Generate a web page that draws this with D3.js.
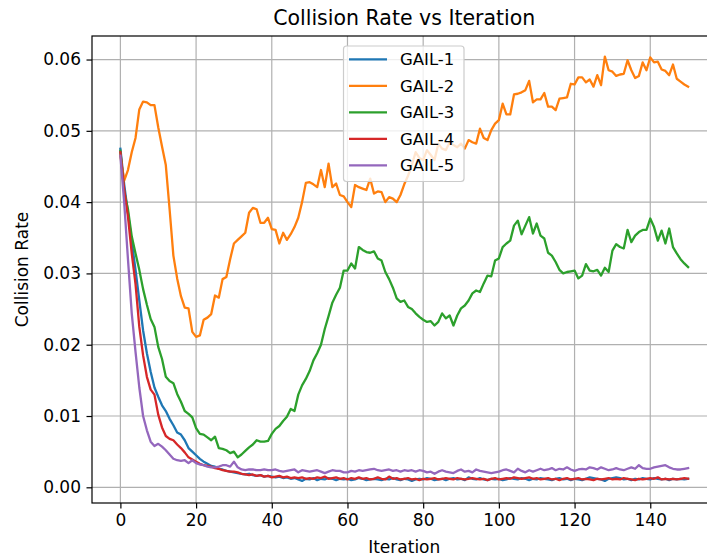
<!DOCTYPE html>
<html>
<head>
<meta charset="utf-8">
<script src="https://cdn.jsdelivr.net/npm/d3@7"></script>
<style>
  body { margin: 0; background: #fff; }
  svg text { font-family: "DejaVu Sans", sans-serif; fill: #000; }
</style>
</head>
<body>
<svg id="chart" width="707" height="558"></svg>
<script>
// Iteration index for every sample (0..150)
const iterations = d3.range(0, 151);

const seriesNames = ["GAIL-1", "GAIL-2", "GAIL-3", "GAIL-4", "GAIL-5"];
const seriesColors = ["#1f77b4", "#ff7f0e", "#2ca02c", "#d62728", "#9467bd"];

const xTicks = [0, 20, 40, 60, 80, 100, 120, 140];
const yTicks = [0.00, 0.01, 0.02, 0.03, 0.04, 0.05, 0.06];

const gail1 = [
  0.0475, 0.0425, 0.0385, 0.0345, 0.0305, 0.0262, 0.0220, 0.0188, 0.0162, 0.0140,
  0.0127, 0.0115, 0.0107, 0.0096, 0.0087, 0.0077, 0.0074, 0.0066, 0.0055, 0.0050,
  0.0045, 0.0040, 0.0036, 0.0033, 0.0030, 0.0029, 0.0026, 0.0025, 0.0023, 0.0022,
  0.0021, 0.0020, 0.0019, 0.0018, 0.0019, 0.0017, 0.0016, 0.0017, 0.0015, 0.0016,
  0.0015, 0.0014, 0.0015, 0.0013, 0.0014, 0.0012, 0.0013, 0.0011, 0.0009, 0.0012,
  0.0011, 0.0013, 0.0010, 0.0012, 0.0011, 0.0013, 0.0012, 0.0010, 0.0012, 0.0011,
  0.0012, 0.0010, 0.0011, 0.0013, 0.0012, 0.0010, 0.0011, 0.0012, 0.0011, 0.0010,
  0.0012, 0.0011, 0.0013, 0.0011, 0.0010, 0.0012, 0.0011, 0.0009, 0.0011, 0.0012,
  0.0011, 0.0013, 0.0012, 0.0010, 0.0011, 0.0012, 0.0010, 0.0012, 0.0013, 0.0011,
  0.0012, 0.0010, 0.0014, 0.0012, 0.0011, 0.0013, 0.0011, 0.0010, 0.0012, 0.0011,
  0.0012, 0.0010, 0.0011, 0.0013, 0.0012, 0.0011, 0.0013, 0.0012, 0.0010, 0.0012,
  0.0011, 0.0013, 0.0012, 0.0011, 0.0010, 0.0012, 0.0013, 0.0011, 0.0012, 0.0010,
  0.0012, 0.0011, 0.0010, 0.0012, 0.0014, 0.0013, 0.0012, 0.0011, 0.0009, 0.0012,
  0.0013, 0.0014, 0.0013, 0.0011, 0.0012, 0.0010, 0.0012, 0.0011, 0.0013, 0.0012,
  0.0011, 0.0013, 0.0012, 0.0011, 0.0012, 0.0010, 0.0012, 0.0011, 0.0012, 0.0011,
  0.0012
];

const gail2 = [
  0.0465, 0.0430, 0.0445, 0.0470, 0.0490, 0.0530, 0.0541, 0.0540, 0.0536, 0.0536,
  0.0505, 0.0478, 0.0452, 0.0390, 0.0325, 0.0293, 0.0268, 0.0252, 0.0251, 0.0218,
  0.0211, 0.0213, 0.0235, 0.0238, 0.0243, 0.0269, 0.0266, 0.0292, 0.0295, 0.0320,
  0.0342, 0.0347, 0.0352, 0.0357, 0.0385, 0.0392, 0.0390, 0.0371, 0.0371, 0.0378,
  0.0362, 0.0361, 0.0342, 0.0357, 0.0347, 0.0355, 0.0365, 0.0378, 0.0400, 0.0427,
  0.0428, 0.0425, 0.0421, 0.0445, 0.0421, 0.0454, 0.0421, 0.0426, 0.0410, 0.0408,
  0.0400, 0.0393, 0.0424, 0.0421, 0.0419, 0.0417, 0.0433, 0.0412, 0.0415, 0.0414,
  0.0400, 0.0407, 0.0405, 0.0400, 0.0410, 0.0425, 0.0437, 0.0452, 0.0470, 0.0462,
  0.0459, 0.0473, 0.0466, 0.0459, 0.0482, 0.0475, 0.0473, 0.0484, 0.0480, 0.0477,
  0.0482, 0.0475, 0.0487, 0.0484, 0.0482, 0.0503, 0.0490, 0.0487, 0.0501, 0.0510,
  0.0515, 0.0538, 0.0523, 0.0523, 0.0551, 0.0552, 0.0554, 0.0557, 0.0570, 0.0540,
  0.0544, 0.0544, 0.0553, 0.0534, 0.0534, 0.0529, 0.0545, 0.0546, 0.0547, 0.0566,
  0.0565, 0.0575, 0.0575, 0.0568, 0.0572, 0.0562, 0.0578, 0.0564, 0.0604, 0.0585,
  0.0583, 0.0577, 0.0579, 0.0580, 0.0599, 0.0585, 0.0574, 0.0577, 0.0596, 0.0585,
  0.0603, 0.0596, 0.0597, 0.0586, 0.0584, 0.0578, 0.0593, 0.0573, 0.0569, 0.0565,
  0.0562
];

const gail3 = [
  0.0472, 0.0415, 0.0390, 0.0352, 0.0328, 0.0305, 0.0278, 0.0256, 0.0236, 0.0225,
  0.0197, 0.0180, 0.0155, 0.0149, 0.0146, 0.0131, 0.0120, 0.0107, 0.0103, 0.0098,
  0.0083, 0.0075, 0.0074, 0.0070, 0.0066, 0.0071, 0.0055, 0.0054, 0.0052, 0.0048,
  0.0050, 0.0042, 0.0046, 0.0051, 0.0056, 0.0060, 0.0066, 0.0064, 0.0064, 0.0065,
  0.0075, 0.0082, 0.0086, 0.0093, 0.0099, 0.0110, 0.0107, 0.0130, 0.0143, 0.0152,
  0.0163, 0.0178, 0.0188, 0.0200, 0.0222, 0.0240, 0.0259, 0.0270, 0.0280, 0.0304,
  0.0304, 0.0314, 0.0307, 0.0337, 0.0333, 0.0330, 0.0329, 0.0331, 0.0321, 0.0318,
  0.0302, 0.0292, 0.0280, 0.0265, 0.0260, 0.0262, 0.0253, 0.0250, 0.0244, 0.0239,
  0.0235, 0.0232, 0.0233, 0.0227, 0.0232, 0.0244, 0.0237, 0.0241, 0.0227, 0.0241,
  0.0251, 0.0255, 0.0262, 0.0272, 0.0276, 0.0274, 0.0286, 0.0297, 0.0296, 0.0318,
  0.0321, 0.0337, 0.0342, 0.0346, 0.0367, 0.0374, 0.0355, 0.0367, 0.0379, 0.0356,
  0.0370, 0.0353, 0.0349, 0.0329, 0.0325, 0.0316, 0.0305, 0.0300, 0.0302, 0.0303,
  0.0304, 0.0293, 0.0297, 0.0313, 0.0304, 0.0303, 0.0305, 0.0297, 0.0308, 0.0302,
  0.0332, 0.0341, 0.0337, 0.0335, 0.0361, 0.0344, 0.0353, 0.0358, 0.0361, 0.0361,
  0.0377, 0.0365, 0.0346, 0.0360, 0.0342, 0.0363, 0.0337, 0.0328, 0.0320, 0.0314,
  0.0309
];

const gail4 = [
  0.0470, 0.0418, 0.0380, 0.0328, 0.0285, 0.0225, 0.0185, 0.0155, 0.0137, 0.0130,
  0.0102, 0.0084, 0.0072, 0.0068, 0.0066, 0.0060, 0.0055, 0.0049, 0.0042, 0.0039,
  0.0036, 0.0033, 0.0031, 0.0030, 0.0029, 0.0027, 0.0026, 0.0024, 0.0023, 0.0022,
  0.0022, 0.0021, 0.0019, 0.0018, 0.0017, 0.0018, 0.0016, 0.0017, 0.0015, 0.0016,
  0.0014, 0.0015, 0.0016, 0.0014, 0.0015, 0.0013, 0.0014, 0.0013, 0.0014, 0.0012,
  0.0013, 0.0012, 0.0014, 0.0013, 0.0015, 0.0012, 0.0013, 0.0014, 0.0012, 0.0013,
  0.0011, 0.0013, 0.0012, 0.0014, 0.0012, 0.0013, 0.0011, 0.0012, 0.0014, 0.0012,
  0.0011, 0.0015, 0.0012, 0.0013, 0.0011, 0.0012, 0.0013, 0.0011, 0.0012, 0.0010,
  0.0012, 0.0011, 0.0012, 0.0013, 0.0011, 0.0012, 0.0013, 0.0012, 0.0011, 0.0013,
  0.0012, 0.0011, 0.0012, 0.0013, 0.0012, 0.0011, 0.0012, 0.0010, 0.0012, 0.0013,
  0.0011, 0.0012, 0.0013, 0.0012, 0.0014, 0.0013, 0.0012, 0.0013, 0.0014, 0.0012,
  0.0013, 0.0011, 0.0012, 0.0013, 0.0011, 0.0012, 0.0010, 0.0012, 0.0013, 0.0011,
  0.0012, 0.0013, 0.0011, 0.0012, 0.0011, 0.0010, 0.0012, 0.0011, 0.0012, 0.0013,
  0.0011, 0.0012, 0.0011, 0.0013, 0.0012, 0.0011, 0.0010, 0.0012, 0.0011, 0.0012,
  0.0013, 0.0012, 0.0014, 0.0011, 0.0012, 0.0011, 0.0012, 0.0011, 0.0012, 0.0013,
  0.0012
];

const gail5 = [
  0.0465, 0.0400, 0.0320, 0.0244, 0.0190, 0.0140, 0.0100, 0.0080, 0.0064, 0.0058,
  0.0061, 0.0057, 0.0052, 0.0046, 0.0040, 0.0038, 0.0037, 0.0038, 0.0034, 0.0038,
  0.0034, 0.0032, 0.0031, 0.0029, 0.0028, 0.0028, 0.0029, 0.0031, 0.0031, 0.0029,
  0.0036, 0.0028, 0.0025, 0.0024, 0.0025, 0.0025, 0.0024, 0.0024, 0.0025, 0.0024,
  0.0024, 0.0025, 0.0023, 0.0022, 0.0023, 0.0024, 0.0025, 0.0021, 0.0024, 0.0023,
  0.0022, 0.0023, 0.0024, 0.0022, 0.0020, 0.0022, 0.0024, 0.0023, 0.0023, 0.0021,
  0.0021, 0.0023, 0.0022, 0.0024, 0.0023, 0.0024, 0.0025, 0.0026, 0.0024, 0.0023,
  0.0024, 0.0025, 0.0023, 0.0024, 0.0022, 0.0024, 0.0023, 0.0024, 0.0022, 0.0024,
  0.0023, 0.0021, 0.0022, 0.0019, 0.0022, 0.0024, 0.0022, 0.0021, 0.0020, 0.0023,
  0.0025, 0.0022, 0.0023, 0.0021, 0.0025, 0.0023, 0.0022, 0.0021, 0.0020, 0.0021,
  0.0022, 0.0024, 0.0025, 0.0023, 0.0021, 0.0026, 0.0023, 0.0021, 0.0024, 0.0022,
  0.0024, 0.0026, 0.0024, 0.0025, 0.0027, 0.0024, 0.0026, 0.0025, 0.0028, 0.0025,
  0.0023, 0.0025, 0.0026, 0.0025, 0.0028, 0.0027, 0.0025, 0.0028, 0.0026, 0.0024,
  0.0025, 0.0027, 0.0025, 0.0024, 0.0026, 0.0028, 0.0026, 0.0031, 0.0027, 0.0026,
  0.0026, 0.0028, 0.0029, 0.0030, 0.0031, 0.0028, 0.0026, 0.0025, 0.0025, 0.0026,
  0.0027
];

const seriesValues = [gail1, gail2, gail3, gail4, gail5];

// ---- layout ----
const svg = d3.select("#chart");
const plot = { left: 92, right: 716.5, top: 36, bottom: 503 };
const tickFont = 17;
const labelFont = 17;
const legendFont = 16.5;
const titleFont = 20.5;

const x = d3.scaleLinear().domain([-7.5, 157.5]).range([plot.left, plot.right]);
const y = d3.scaleLinear().domain([-0.0022, 0.0633]).range([plot.bottom, plot.top]);

// grid
const grid = svg.append("g").attr("stroke", "#b0b0b0").attr("stroke-width", 1.2);
grid.selectAll("line.vx").data(xTicks).join("line")
  .attr("x1", d => x(d)).attr("x2", d => x(d))
  .attr("y1", plot.top).attr("y2", plot.bottom);
grid.selectAll("line.hy").data(yTicks).join("line")
  .attr("x1", plot.left).attr("x2", plot.right)
  .attr("y1", d => y(d)).attr("y2", d => y(d));

// series lines
const line = d3.line().x((d, i) => x(iterations[i])).y(d => y(d));
svg.append("g").selectAll("path").data(seriesValues).join("path")
  .attr("d", d => line(d))
  .attr("fill", "none")
  .attr("stroke", (d, i) => seriesColors[i])
  .attr("stroke-width", 2.3)
  .attr("stroke-linejoin", "round")
  .attr("stroke-linecap", "square");

// axes
const xAxis = d3.axisBottom(x).tickValues(xTicks).tickFormat(d3.format("d"))
  .tickSizeInner(5.5).tickSizeOuter(0).tickPadding(5.5);
const yAxis = d3.axisLeft(y).tickValues(yTicks).tickFormat(d3.format(".2f"))
  .tickSizeInner(5.5).tickSizeOuter(0).tickPadding(5.5);

const gx = svg.append("g").attr("transform", `translate(0,${plot.bottom})`).call(xAxis);
const gy = svg.append("g").attr("transform", `translate(${plot.left},0)`).call(yAxis);
[gx, gy].forEach(g => {
  g.select(".domain").remove();
  g.selectAll(".tick line").attr("stroke", "#000").attr("stroke-width", 1.2);
  g.selectAll(".tick text").attr("font-size", tickFont).attr("fill", "#262626")
    .style("font-family", "'DejaVu Sans', sans-serif");
});

// frame
svg.append("rect")
  .attr("x", plot.left).attr("y", plot.top)
  .attr("width", plot.right - plot.left).attr("height", plot.bottom - plot.top)
  .attr("fill", "none").attr("stroke", "#000").attr("stroke-width", 1.2);

// title and axis labels
svg.append("text").attr("x", (plot.left + plot.right) / 2).attr("y", 25)
  .attr("text-anchor", "middle").attr("font-size", titleFont).attr("fill", "#262626")
  .text("Collision Rate vs Iteration");
svg.append("text").attr("x", (plot.left + plot.right) / 2).attr("y", 553)
  .attr("text-anchor", "middle").attr("font-size", labelFont).attr("fill", "#262626")
  .text("Iteration");
svg.append("text")
  .attr("transform", `translate(28,${(plot.top + plot.bottom) / 2}) rotate(-90)`)
  .attr("text-anchor", "middle").attr("font-size", labelFont).attr("fill", "#262626")
  .text("Collision Rate");

// legend
const legend = svg.append("g");
legend.append("rect")
  .attr("x", 343.5).attr("y", 46).attr("width", 120.5).attr("height", 135.5)
  .attr("rx", 3).attr("fill", "#fff").attr("fill-opacity", 0.8)
  .attr("stroke", "#cccccc").attr("stroke-width", 1.2);
const rowY = d3.scalePoint().domain(seriesNames).range([59.3, 165.3]);
const items = legend.selectAll("g.item").data(seriesNames).join("g")
  .attr("transform", d => `translate(0,${rowY(d)})`);
items.append("line").attr("x1", 349).attr("x2", 387).attr("y1", 0).attr("y2", 0)
  .attr("stroke", (d, i) => seriesColors[i]).attr("stroke-width", 2.3);
items.append("text").attr("x", 400).attr("y", 6).attr("font-size", legendFont)
  .attr("fill", "#262626").text(d => d);
</script>
</body>
</html>
